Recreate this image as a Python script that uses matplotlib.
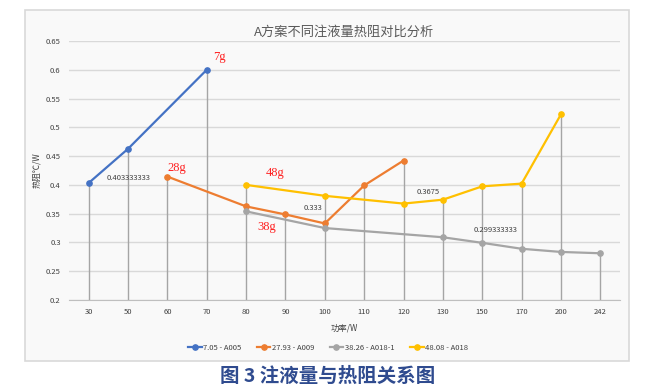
import numpy as np
import matplotlib
matplotlib.use('Agg')
import matplotlib.pyplot as plt
from matplotlib.patches import Rectangle

plt.rcParams['font.family'] = ['Noto Sans CJK SC', 'DejaVu Sans']
plt.rcParams['axes.unicode_minus'] = False

# categories (power, W)
power = ['30', '50', '60', '70', '80', '90', '100', '110', '120', '130', '150', '170', '200', '242']
nan = np.nan

# thermal resistance per series (nan = no measurement)
a005 = [0.4033, 0.4627, nan, 0.600, nan, nan, nan, nan, nan, nan, nan, nan, nan, nan]
a009 = [nan, nan, 0.4144, nan, 0.3626, 0.3486, 0.333, 0.399, 0.4423, nan, nan, nan, nan, nan]
a018_1 = [nan, nan, nan, nan, 0.354, nan, 0.325, nan, nan, 0.309, 0.2993, 0.289, 0.2835, 0.2812]
a018 = [nan, nan, nan, nan, 0.400, nan, 0.381, nan, 0.3675, 0.3743, 0.3975, 0.4022, 0.5226, nan]

series = [
    ('7.05 - A005', a005, '#4472C4'),
    ('27.93 - A009', a009, '#ED7D31'),
    ('38.26 - A018-1', a018_1, '#A5A5A5'),
    ('48.08 - A018', a018, '#FFC000'),
]

fig = plt.figure(figsize=(6.6, 3.87), dpi=100)
fig.patch.set_facecolor('white')

# chart frame
fig.patches.append(Rectangle((25 / 660, 1 - 361 / 387), 604 / 660, 351 / 387,
                             transform=fig.transFigure, facecolor='#f9f9f9',
                             edgecolor='#d9d9d9', linewidth=1.2, zorder=-10))

ax = fig.add_axes([69 / 660, 1 - 300 / 387, 551 / 660, 259 / 387])
ax.set_facecolor('none')
ax.set_zorder(5)

x = np.arange(len(power))

# drop lines from highest point in each category
allv = np.array([s[1] for s in series], dtype=float)
top = np.nanmax(np.where(np.isnan(allv), -np.inf, allv), axis=0)
for xi, t in zip(x, top):
    if np.isfinite(t):
        ax.vlines(xi, 0.2, t, color='#a5a5a5', linewidth=1.0, zorder=2)

for name, vals, col in series:
    v = np.array(vals, dtype=float)
    m = ~np.isnan(v)
    ax.plot(x[m], v[m], color=col, linewidth=1.6, marker='o', markersize=3.8,
            label=name, zorder=3)

ax.set_xlim(-0.5, len(power) - 0.5)
ax.set_ylim(0.2, 0.65)
ax.set_yticks(np.arange(0.2, 0.651, 0.05))
ax.set_yticklabels(['0.2', '0.25', '0.3', '0.35', '0.4', '0.45', '0.5', '0.55', '0.6', '0.65'])
ax.set_xticks(x)
ax.set_xticklabels(power)
ax.tick_params(axis='both', length=0, labelsize=5.5, colors='#404040', pad=6)
ax.grid(axis='y', color='#d9d9d9', linewidth=1.0)
ax.set_axisbelow(True)
for s in ['top', 'right', 'left']:
    ax.spines[s].set_visible(False)
ax.spines['bottom'].set_color('#bfbfbf')

ax.set_xlabel('功率/W', fontsize=6, color='#404040', labelpad=5)
ax.set_ylabel('热阻℃/W', fontsize=6, color='#404040', labelpad=3)
ax.set_title('A方案不同注液量热阻对比分析', fontsize=9.5, color='#595959', pad=4)

# data labels
lab_kw = dict(fontsize=5.5, color='#404040', ha='center', va='center')
ax.text(1.02, 0.4126, '0.403333333', **lab_kw)
ax.text(5.7, 0.359, '0.333', **lab_kw)
ax.text(8.63, 0.388, '0.3675', **lab_kw)
ax.text(10.35, 0.322, '0.299333333', **lab_kw)

# mass annotations
red_kw = dict(fontsize=9, color='#ff2020', family='Liberation Serif', ha='center', va='center')
ax.text(3.33, 0.622, '7g', **red_kw)
ax.text(2.24, 0.43, '28g', **red_kw)
ax.text(4.73, 0.42, '48g', **red_kw)
ax.text(4.53, 0.327, '38g', **red_kw)

ax.legend(loc='upper center', bbox_to_anchor=(328 / 660, 1 - 341 / 387),
          bbox_transform=fig.transFigure, ncol=4, frameon=False, fontsize=5.5,
          handlelength=1.8, handletextpad=0.2, columnspacing=2.0, borderaxespad=0,
          labelcolor='#404040')

fig.text(328 / 660, 1 - 376 / 387, '图 3 注液量与热阻关系图', fontsize=14, fontweight='bold',
         color='#2f4b8f', ha='center', va='center')

plt.savefig('out.png', dpi=100)
